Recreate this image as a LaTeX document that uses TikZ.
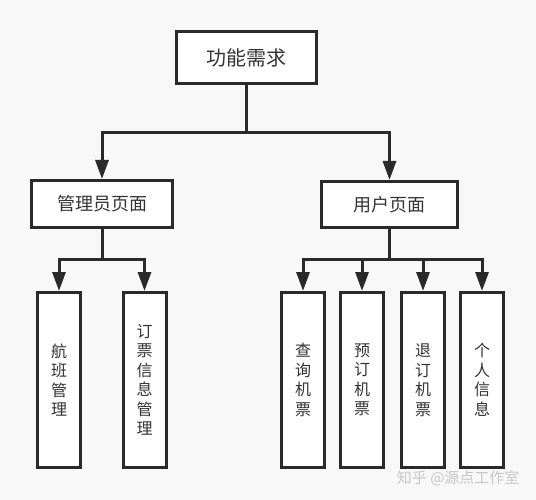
\documentclass[tikz,border=0pt]{standalone}
\usepackage{fontspec}
\newfontfamily\cjk{Noto Sans CJK SC}
\usetikzlibrary{arrows.meta}
\definecolor{bg}{HTML}{F8F8F8}
\definecolor{ink}{HTML}{2A2A2A}
\definecolor{txt}{HTML}{333333}
\tikzset{
  box/.style={draw=ink, line width=3pt, fill=white, inner sep=0pt, text=txt},
  bigbox/.style={box, font=\cjk\fontsize{20}{24}\selectfont},
  midbox/.style={box, font=\cjk\fontsize{18}{22}\selectfont},
  tallbox/.style={box, minimum width=43pt, minimum height=175pt, align=center,
     font=\cjk\fontsize{16}{19.5}\selectfont},
  link/.style={draw=ink, line width=3pt},
  arr/.style={link, -{Triangle[length=19pt,width=13pt]}},
}
\begin{document}
\begin{tikzpicture}[x=1pt,y=1pt]
\fill[bg] (0,0) rectangle (536,-500);
\useasboundingbox (0,0) rectangle (536,-500);
\node[bigbox, minimum width=140pt, minimum height=52pt] (top) at (246.5,-57.5) {功能需求};
\node[midbox, minimum width=141pt, minimum height=47pt] (admin) at (102,-204) {管理员页面};
\node[midbox, minimum width=136pt, minimum height=46pt] (user) at (389.5,-204.5) {用户页面};
\node[tallbox] (a1) at (59,-380) {航\\班\\管\\理};
\node[tallbox] (a2) at (144.5,-380) {订\\票\\信\\息\\管\\理};
\node[tallbox] (u1) at (303,-380) {查\\询\\机\\票};
\node[tallbox] (u2) at (362,-380) {预\\订\\机\\票};
\node[tallbox] (u3) at (423,-380) {退\\订\\机\\票};
\node[tallbox] (u4) at (482,-380) {个\\人\\信\\息};
\coordinate (j0) at (246.5,-133);
\coordinate (ja) at (102,-259);
\coordinate (ju) at (389.5,-259);
\draw[link] (top.south) -- (j0);
\draw[arr] (j0) -| (admin.north);
\draw[arr] (j0) -| (user.north);
\draw[link] (admin.south) -- (ja);
\draw[arr] (ja) -| (a1.north);
\draw[arr] (ja) -| (a2.north);
\draw[link] (user.south) -- (ju);
\draw[arr] (ju) -| (u1.north);
\draw[arr] (ju) -| (u2.north);
\draw[arr] (ju) -| (u3.north);
\draw[arr] (ju) -| (u4.north);
\node[text=black!22, font=\cjk\fontsize{15}{18}\selectfont, anchor=east] (wm) at (523,-478) {知乎 @源点工作室};
\end{tikzpicture}
\end{document}
